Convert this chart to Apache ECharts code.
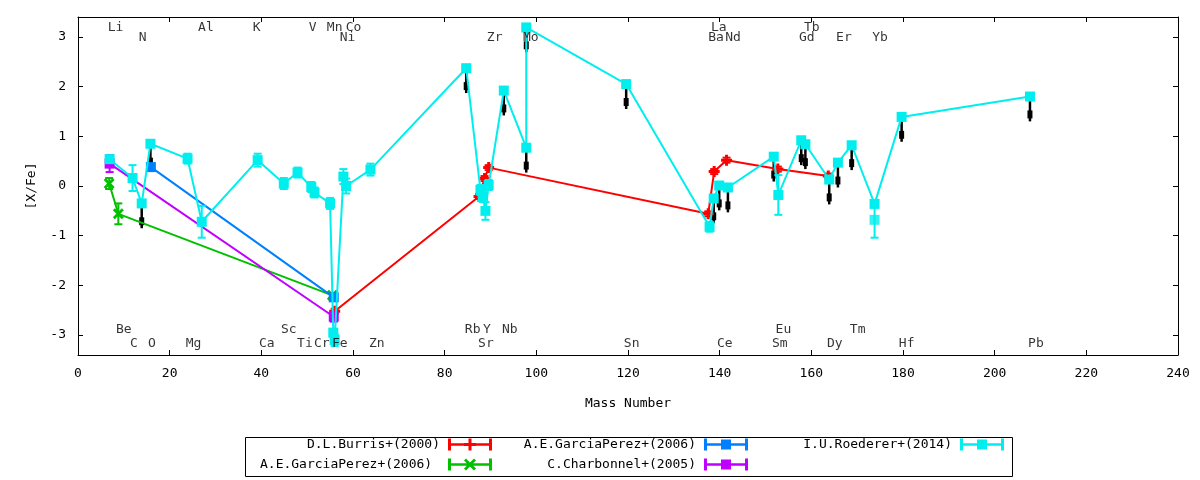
<!DOCTYPE html>
<html><head><meta charset="utf-8">
<script src="https://cdn.jsdelivr.net/npm/echarts@6/dist/echarts.min.js"></script>
<style>html,body{margin:0;padding:0;background:#fff}#c{width:1200px;height:480px}</style>
</head><body><div id="c"></div>
<script>
const FONT = 'DejaVu Sans Mono';

// ---- axes ----
const xTicks = [0, 20, 40, 60, 80, 100, 120, 140, 160, 180, 200, 220, 240];
const yTicks = [-3, -2, -1, 0, 1, 2, 3];
const xMin = 0, xMax = 240, yMin = -3.4, yMax = 3.4;

// ---- D.L.Burris+(2000) ----
const burrisX   = [56.0, 87.5, 88.7, 89.6, 137.5, 138.8, 141.5, 152.7, 163.7];
const burrisY   = [-2.52, -0.21, 0.15, 0.37, -0.56, 0.29, 0.52, 0.34, 0.20];
const burrisErr = [0.05, 0.05, 0.05, 0.05, 0.05, 0.05, 0.05, 0.05, 0.05];

// ---- A.E.GarciaPerez+(2006) (green) ----
const gp2X   = [6.8, 8.8, 55.5];
const gp2Y   = [0.05, -0.56, -2.20];
const gp2Err = [0.11, 0.21, 0.05];

// ---- A.E.GarciaPerez+(2006) (blue) ----
const gp1X   = [15.9, 55.8];
const gp1Y   = [0.38, -2.24];
const gp1Err = [0.05, 0.06];

// ---- C.Charbonnel+(2005) ----
const charX   = [6.9, 55.8];
const charY   = [0.45, -2.63];
const charErr = [0.17, 0.10];

// ---- I.U.Roederer+(2014) ----
const roedX = [6.9, 11.9, 13.9, 15.8, 23.9, 27.0, 39.2, 44.9, 47.9, 50.9, 51.6, 55.0, 55.7, 56.0,
  57.9, 58.5, 63.8, 84.7, 87.8, 88.3, 88.9, 89.6, 92.9, 97.8, 97.8, 119.6,
  137.8, 138.7, 139.9, 141.8, 151.8, 152.8, 157.8, 158.7, 163.9, 165.8, 168.8, 173.8, 179.7, 207.7];
const roedY = [0.54, 0.16, -0.35, 0.85, 0.55, -0.72, 0.52, 0.05, 0.27, -0.02, -0.13, -0.35, -2.95, -3.10,
  0.19, 0.00, 0.33, 2.37, -0.08, -0.22, -0.50, 0.02, 1.92, 0.77, 3.19, 2.05,
  -0.82, -0.25, 0.01, -0.03, 0.59, -0.18, 0.92, 0.84, 0.13, 0.47, 0.82, -0.36, 1.39, 1.80];
const roedErr = [0.07, 0.26, 0, 0, 0.10, 0.32, 0.13, 0.11, 0.10, 0.10, 0.10, 0.11, 0.05, 0.12,
  0.15, 0.15, 0.12, 0, 0.10, 0.10, 0.18, 0.10, 0, 0, 0, 0,
  0.10, 0, 0, 0, 0, 0.40, 0, 0, 0, 0, 0, 0, 0, 0];
// an extra unconnected Roederer point (Yb)
const roedExtraX = [173.8];
const roedExtraY = [-0.68];
const roedExtraErr = [0.36];

// ---- upper limits (black arrows) ----
const limitX = [13.9, 15.8, 84.7, 92.9, 97.8, 97.8, 119.6, 138.7, 139.9, 141.8, 151.8, 157.8, 158.7, 163.9, 165.8, 168.8, 179.7, 207.7];
const limitY = [-0.35, 0.85, 2.37, 1.92, 0.77, 3.19, 2.05, -0.25, 0.01, -0.03, 0.59, 0.92, 0.84, 0.13, 0.47, 0.82, 1.39, 1.80];
const arrowLen = 0.5;

// ---- element labels ----
const elemNames = ['Li','Al','K','V','Mn','Co','La','Tb',
  'N','Ni','Zr','Mo','Ba','Nd','Gd','Er','Yb',
  'Be','Sc','Rb','Y','Nb','Eu','Tm',
  'C','O','Mg','Ca','Ti','Cr','Fe','Zn','Sr','Sn','Ce','Sm','Dy','Hf','Pb'];
const elemX = [8.2, 27.9, 39.0, 51.2, 56.0, 60.1, 139.8, 160.1,
  14.1, 58.8, 90.9, 98.8, 139.2, 142.9, 159.0, 167.1, 175.0,
  10.0, 46.0, 86.1, 89.2, 94.2, 153.9, 170.1,
  12.2, 16.1, 25.2, 41.2, 49.5, 53.2, 57.1, 65.2, 89.0, 120.8, 141.1, 153.1, 165.1, 180.8, 209.0];
const elemY = [3.18,3.18,3.18,3.18,3.18,3.18,3.18,3.18,
  2.98,2.98,2.98,2.98,2.98,2.98,2.98,2.98,2.98,
  -2.88,-2.88,-2.88,-2.88,-2.88,-2.88,-2.88,
  -3.18,-3.18,-3.18,-3.18,-3.18,-3.18,-3.18,-3.18,-3.18,-3.18,-3.18,-3.18,-3.18,-3.18,-3.18];

const RED = '#ff0000', GREEN = '#00c000', BLUE = '#0080ff', PURPLE = '#c000ff', CYAN = '#00eeee';

const zip2 = (xs, ys) => xs.map((x, i) => [x, ys[i]]);
const zip3 = (xs, ys, es) => xs.map((x, i) => [x, ys[i], es[i]]);

const plusSym = 'path://M4,0h3v11h-3zM0,4h11v3h-11z';
const crossSym = 'path://M0,2L2,0L5.5,3.5L9,0L11,2L7.5,5.5L11,9L9,11L5.5,7.5L2,11L0,9L3.5,5.5Z';

const capPath = 'M0,0h3v12h-3zM41,0h3v12h-3zM0,4.75h44v2.5h-44z';
const iconPlus = 'path://' + capPath + 'M20.5,0h3v12h-3zM16,4.5h12v3h-12z';
const iconCross = 'path://' + capPath + 'M16,2L18,0L22,4L26,0L28,2L24,6L28,10L26,12L22,8L18,12L16,10L20,6Z';
const iconSquare = 'path://' + capPath + 'M17,1h10v10h-10z';

function errRender(color) {
  return function (params, api) {
    const x = api.value(0), y = api.value(1), e = api.value(2);
    if (!(e > 0)) return { type: 'group', children: [] };
    const a = api.coord([x, y + e]), b = api.coord([x, y - e]);
    const w = 4;
    const st = { stroke: color, lineWidth: 2 };
    return { type: 'group', children: [
      { type: 'line', shape: { x1: a[0], y1: a[1], x2: b[0], y2: b[1] }, style: st },
      { type: 'line', shape: { x1: a[0] - w, y1: a[1], x2: a[0] + w, y2: a[1] }, style: st },
      { type: 'line', shape: { x1: b[0] - w, y1: b[1], x2: b[0] + w, y2: b[1] }, style: st }
    ]};
  };
}

function arrowRender(params, api) {
  const x = api.value(0), y = api.value(1);
  const a = api.coord([x, y]), b = api.coord([x, y - arrowLen]);
  const L = b[1] - a[1];
  return { type: 'group', children: [
    { type: 'line', shape: { x1: a[0], y1: a[1], x2: b[0], y2: b[1] }, style: { stroke: '#000', lineWidth: 2.5 } },
    { type: 'rect', shape: { x: a[0] - 2.5, y: a[1] + L * 0.56, width: 5, height: L * 0.32 }, style: { fill: '#000' } }
  ]};
}

function lineSeries(id, xs, ys, color, symbol, size, z) {
  return { type: 'line', name: id, data: zip2(xs, ys), symbol: symbol, symbolSize: size,
    showSymbol: true, lineStyle: { color: color, width: 2 }, itemStyle: { color: color },
    z: z, animation: false, silent: true };
}
function errSeries(name, xs, ys, es, color, z) {
  return { type: 'custom', name: name, data: zip3(xs, ys, es), renderItem: errRender(color),
    encode: { x: 0, y: 1 }, z: z, animation: false, silent: true };
}

function legendItem(name, icon, color, right, top) {
  return { show: true, orient: 'horizontal', align: 'right', right: right, top: top, padding: 0,
    itemWidth: 44, itemHeight: 12, itemGap: 0, selectedMode: false,
    textStyle: { fontFamily: FONT, fontSize: 13, color: '#000', padding: [0, 3, 0, 0] },
    data: [{ name: name, icon: icon, itemStyle: { color: color } }] };
}

const chart = echarts.init(document.getElementById('c'), null, { renderer: 'canvas' });
const axisLine = { show: true, onZero: false, lineStyle: { color: '#000', width: 1 } };
const tickStyle = { show: true, inside: true, length: 5, lineStyle: { color: '#000' } };

chart.setOption({
  animation: false,
  backgroundColor: '#fff',
  textStyle: { fontFamily: FONT },
  grid: { left: 78, top: 17, width: 1100, height: 338, containLabel: false },
  xAxis: [
    { type: 'value', min: xMin, max: xMax, position: 'bottom',
      name: 'Mass Number', nameLocation: 'middle', nameGap: 42,
      nameTextStyle: { fontFamily: FONT, fontSize: 13, color: '#000' },
      axisLine: axisLine, splitLine: { show: false },
      axisTick: Object.assign({ customValues: xTicks }, tickStyle),
      axisLabel: { customValues: xTicks, fontFamily: FONT, fontSize: 13, color: '#000', margin: 12 } },
    { type: 'value', min: xMin, max: xMax, position: 'top',
      axisLine: axisLine, splitLine: { show: false },
      axisTick: Object.assign({ customValues: xTicks }, tickStyle),
      axisLabel: { show: false } }
  ],
  yAxis: [
    { type: 'value', min: yMin, max: yMax, position: 'left',
      name: '[X/Fe]', nameLocation: 'middle', nameGap: 40,
      nameTextStyle: { fontFamily: FONT, fontSize: 13, color: '#000' },
      axisLine: axisLine, splitLine: { show: false },
      axisTick: Object.assign({ customValues: yTicks }, tickStyle),
      axisLabel: { customValues: yTicks, fontFamily: FONT, fontSize: 13, color: '#000', margin: 12 } },
    { type: 'value', min: yMin, max: yMax, position: 'right',
      axisLine: axisLine, splitLine: { show: false },
      axisTick: Object.assign({ customValues: yTicks }, tickStyle),
      axisLabel: { show: false } }
  ],
  legend: [
    legendItem('D.L.Burris+(2000)', iconPlus, RED, 708, 438),
    legendItem('A.E.GarciaPerez+(2006) ', iconCross, GREEN, 708, 458),
    legendItem('A.E.GarciaPerez+(2006)', iconSquare, BLUE, 452, 438),
    legendItem('C.Charbonnel+(2005)', iconSquare, PURPLE, 452, 458),
    legendItem('I.U.Roederer+(2014)', iconSquare, CYAN, 196, 438)
  ],
  graphic: [
    { type: 'rect', left: 243, top: 435, shape: { width: 767, height: 39 },
      style: { fill: 'none', stroke: '#000', lineWidth: 1 }, silent: true }
  ],
  series: [
    { type: 'custom', name: 'limits', data: zip2(limitX, limitY), renderItem: arrowRender,
      encode: { x: 0, y: 1 }, z: 2, animation: false, silent: true },

    errSeries('D.L.Burris+(2000)', burrisX, burrisY, burrisErr, RED, 3),
    lineSeries('burris', burrisX, burrisY, RED, plusSym, 11, 3),

    errSeries('A.E.GarciaPerez+(2006) ', gp2X, gp2Y, gp2Err, GREEN, 4),
    lineSeries('gp2', gp2X, gp2Y, GREEN, crossSym, 11, 4),

    errSeries('A.E.GarciaPerez+(2006)', gp1X, gp1Y, gp1Err, BLUE, 5),
    lineSeries('gp1', gp1X, gp1Y, BLUE, 'rect', 10, 5),

    errSeries('C.Charbonnel+(2005)', charX, charY, charErr, PURPLE, 6),
    lineSeries('char', charX, charY, PURPLE, 'rect', 10, 6),

    errSeries('I.U.Roederer+(2014)', roedX, roedY, roedErr, CYAN, 7),
    lineSeries('roed', roedX, roedY, CYAN, 'rect', 10, 7),
    errSeries('roedExtraErr', roedExtraX, roedExtraY, roedExtraErr, CYAN, 7),
    { type: 'scatter', name: 'roedExtra', data: zip2(roedExtraX, roedExtraY), symbol: 'rect', symbolSize: 10,
      itemStyle: { color: CYAN }, z: 7, animation: false, silent: true },

    { type: 'scatter', name: 'elements', z: 10, silent: true, animation: false,
      symbolSize: 1, itemStyle: { color: 'rgba(0,0,0,0)' },
      data: elemNames.map((n, i) => ({ name: n, value: [elemX[i], elemY[i]] })),
      label: { show: true, position: 'inside', formatter: '{b}', color: '#000',
        fontFamily: FONT, fontSize: 13 },
      labelLayout: { hideOverlap: false } }
  ]
});
</script></body></html>
